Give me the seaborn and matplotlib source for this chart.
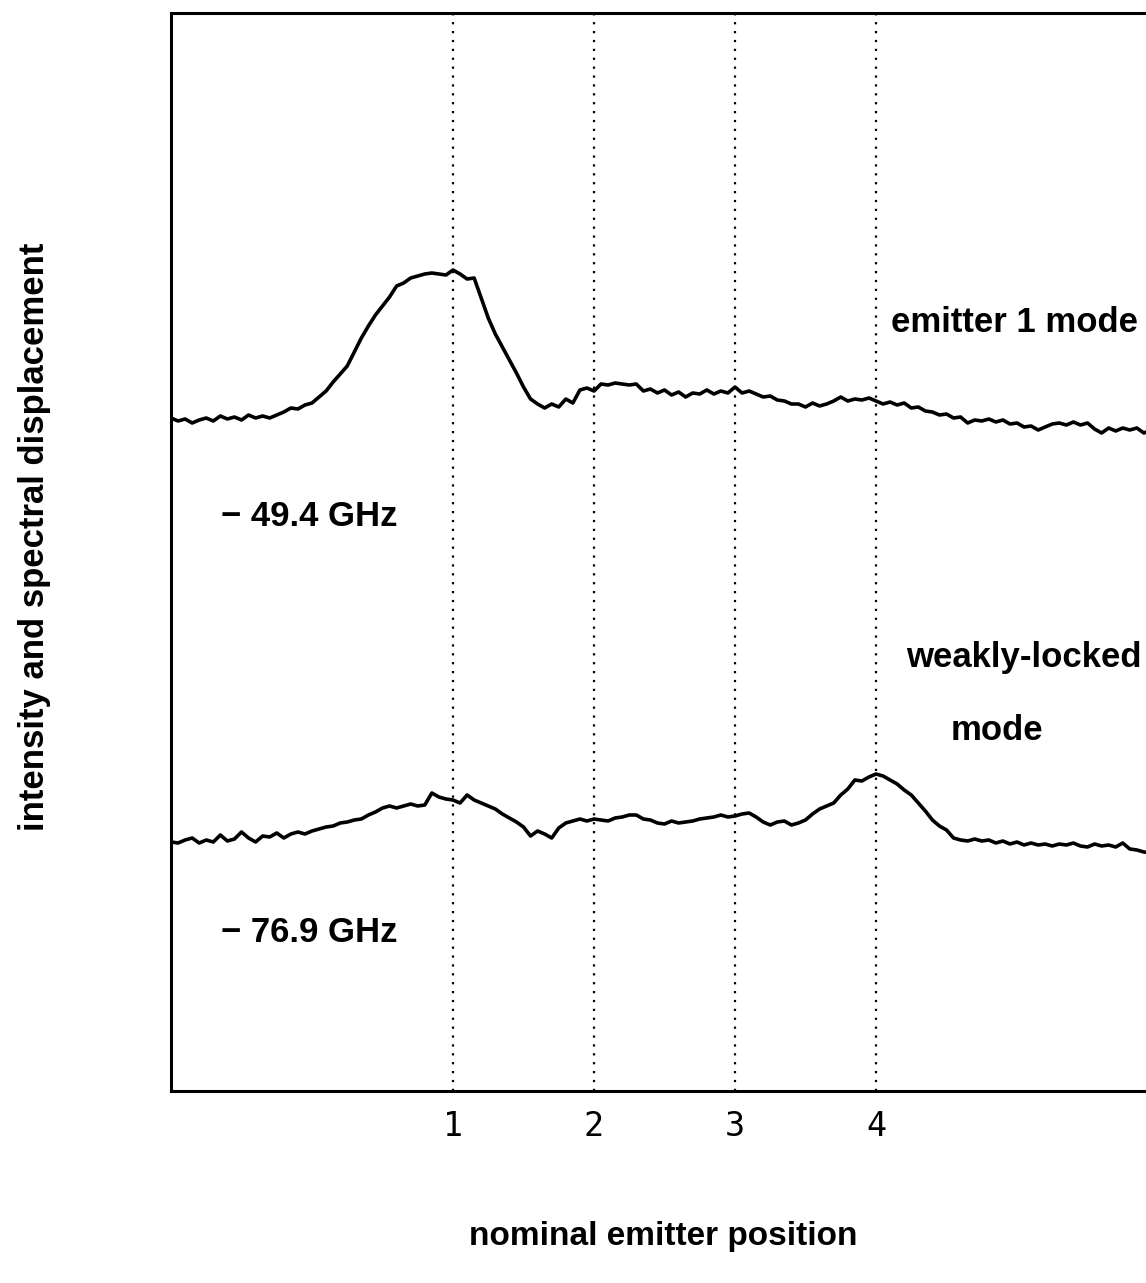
import numpy as np
import pandas as pd
import matplotlib
matplotlib.use("Agg")
import matplotlib.pyplot as plt
import seaborn as sns

# Sample positions (nominal emitter position units), step 0.05
positions = [round(-1.0 + 0.05 * i, 2) for i in range(140)]

# Upper trace: emitter 1 mode (-49.4 GHz), arbitrary intensity units
emitter1_mode = [
    673, 670, 672, 668, 671, 673, 670, 675, 672, 674, 671, 676, 673, 675, 673, 676, 679, 683, 682, 686,
    688, 694, 700, 709, 717, 725, 739, 753, 765, 776, 785, 794, 805, 808, 813, 815, 817, 818, 817, 816,
    821, 817, 812, 813, 793, 773, 757, 744, 731, 718, 704, 692, 687, 683, 687, 684, 692, 688, 701, 703,
    700, 707, 706, 708, 707, 706, 707, 700, 702, 698, 701, 696, 699, 694, 698, 697, 701, 697, 700, 698,
    704, 698, 700, 697, 694, 695, 691, 690, 687, 687, 684, 688, 685, 687, 690, 694, 690, 692, 691, 693,
    690, 687, 689, 686, 688, 683, 684, 680, 679, 676, 677, 673, 674, 668, 671, 670, 672, 669, 671, 667,
    668, 664, 665, 661, 664, 667, 668, 666, 669, 666, 668, 662, 658, 663, 660, 663, 661, 663, 658, 661,
]

# Lower trace: weakly-locked mode (-76.9 GHz)
weakly_locked_mode = [
    249, 248, 251, 253, 248, 251, 249, 256, 250, 252, 259, 253, 249, 255, 254, 258, 253, 257, 259, 257,
    260, 262, 264, 265, 268, 269, 271, 272, 276, 279, 283, 285, 283, 285, 287, 285, 286, 298, 294, 292,
    291, 288, 296, 291, 288, 285, 282, 277, 273, 269, 264, 255, 260, 257, 253, 263, 268, 270, 272, 270,
    272, 271, 270, 273, 274, 276, 276, 272, 271, 268, 267, 270, 268, 269, 270, 272, 273, 274, 276, 274,
    275, 277, 278, 274, 269, 266, 269, 270, 266, 268, 271, 277, 282, 285, 288, 296, 302, 311, 310, 314,
    317, 315, 311, 307, 301, 296, 288, 280, 271, 265, 261, 253, 251, 250, 252, 250, 251, 248, 250, 247,
    249, 246, 248, 246, 247, 245, 247, 246, 248, 245, 244, 247, 245, 246, 244, 248, 242, 241, 239, 238,
]

emitter_ticks = [1, 2, 3, 4]
tick_labels = ["1", "2", "3", "4"]

df = pd.concat([
    pd.DataFrame({"pos": positions, "intensity": emitter1_mode, "trace": "emitter 1 mode"}),
    pd.DataFrame({"pos": positions, "intensity": weakly_locked_mode, "trace": "weakly-locked mode"}),
], ignore_index=True)

sns.set_theme(style="white")
plt.rcParams["font.family"] = ["Liberation Sans", "DejaVu Sans"]
plt.rcParams["text.color"] = "black"
plt.rcParams["axes.labelcolor"] = "black"
plt.rcParams["xtick.color"] = "black"

W, H = 1146, 1283
fig = plt.figure(figsize=(W / 100, H / 100), dpi=100)
ax = fig.add_axes([171 / W, 192 / H, 987 / W, 1078 / H])

for xv in emitter_ticks:
    ax.axvline(xv, color="black", lw=1.6, ls=(0, (1, 3)), zorder=1)

sns.lineplot(data=df, x="pos", y="intensity", hue="trace", units="trace",
             estimator=None, sort=False, palette=["black", "black"],
             linewidth=2.6, legend=False, ax=ax, zorder=3)

ax.set_xlim(-1.0, 6.0)
ax.set_ylim(0, 1078)
ax.set_yticks([])
ax.set_xticks(emitter_ticks)
ax.set_xticklabels(tick_labels, fontfamily="DejaVu Sans Mono", fontsize=24,
                   color="black")
ax.tick_params(axis="x", length=0, pad=14, labelcolor="black")

for side in ["left", "top", "bottom", "right"]:
    ax.spines[side].set_color("black")
    ax.spines[side].set_linewidth(2.2)

ax.set_xlabel("nominal emitter position", fontsize=24, fontweight="bold",
              color="black")
ax.xaxis.label.set_va("center")
ax.xaxis.set_label_coords(0.4985, -0.1354)
ax.set_ylabel("intensity and spectral displacement", fontsize=25,
              fontweight="bold", color="black")
ax.yaxis.label.set_va("center")
ax.yaxis.set_label_coords(-0.1378, 0.514)

txt = dict(fontsize=25, fontweight="bold", color="black", ha="left", va="center")
ax.text(4.106, 768, "emitter 1 mode", **txt)
ax.text(-0.645, 575, "\u2212 49.4 GHz", **txt)
ax.text(4.213, 433, "weakly-locked", **txt)
ax.text(4.532, 361, "mode", **txt)
ax.text(-0.645, 159, "\u2212 76.9 GHz", **txt)

fig.savefig("out.png", dpi=100)
